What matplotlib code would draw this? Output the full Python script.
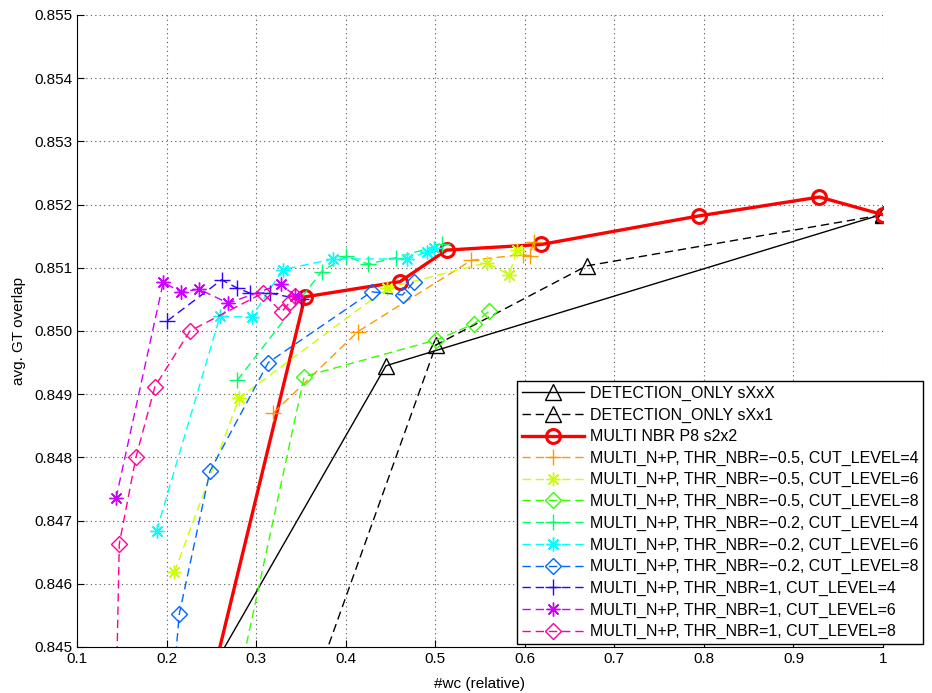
import matplotlib
matplotlib.use("Agg")
import matplotlib.pyplot as plt
import numpy as np

plt.rcParams["font.family"] = ["Liberation Sans", "DejaVu Sans"]
plt.rcParams["font.size"] = 11

# --- data (x = #wc relative, y = avg. GT overlap) ---
det_xxx_x = [0.220, 0.445, 1.000]
det_xxx_y = [0.84389, 0.84945, 0.85185]

det_xx1_x = [0.360, 0.501, 0.669, 1.000]
det_xx1_y = [0.84420, 0.84978, 0.85103, 0.85184]

nbr_p8_x = [0.250, 0.3545, 0.4605, 0.5126, 0.6186, 0.794, 0.929, 1.000]
nbr_p8_y = [0.84444, 0.85054, 0.85078, 0.85128, 0.85137, 0.85182, 0.85212, 0.85184]

m05_c4_x = [0.319, 0.4136, 0.5405, 0.5981, 0.6056, 0.610]
m05_c4_y = [0.84870, 0.84999, 0.85112, 0.85121, 0.85118, 0.85141]

m05_c6_x = [0.2086, 0.2811, 0.4464, 0.5573, 0.5826, 0.5914]
m05_c6_y = [0.84618, 0.84894, 0.85068, 0.85108, 0.85089, 0.85128]

m05_c8_x = [0.280, 0.3537, 0.5014, 0.5431, 0.5598]
m05_c8_y = [0.84444, 0.84928, 0.84986, 0.85011, 0.85031]

m02_c4_x = [0.2789, 0.3731, 0.4002, 0.4251, 0.456, 0.5081]
m02_c4_y = [0.84922, 0.85094, 0.85118, 0.85106, 0.85116, 0.85137]

m02_c6_x = [0.1889, 0.2596, 0.295, 0.3296, 0.386, 0.469, 0.4903, 0.4984]
m02_c6_y = [0.84684, 0.85023, 0.85022, 0.85097, 0.85114, 0.85114, 0.85125, 0.85131]

m02_c8_x = [0.205, 0.2142, 0.2484, 0.3135, 0.4289, 0.4635, 0.4761]
m02_c8_y = [0.84400, 0.84552, 0.84778, 0.84950, 0.85062, 0.85057, 0.85078]

p1_c4_x = [0.2008, 0.2615, 0.2789, 0.2930, 0.3154, 0.350]
p1_c4_y = [0.85016, 0.85081, 0.85068, 0.85060, 0.85060, 0.85050]

p1_c6_x = [0.1435, 0.1963, 0.2157, 0.2365, 0.2689, 0.3273, 0.3433]
p1_c6_y = [0.84735, 0.85077, 0.85062, 0.85066, 0.85044, 0.85074, 0.85056]

p1_c8_x = [0.1435, 0.1472, 0.1658, 0.187, 0.2261, 0.3075, 0.3285, 0.3377, 0.3433]
p1_c8_y = [0.84400, 0.84663, 0.84800, 0.84912, 0.85000, 0.85060, 0.85030, 0.85046, 0.85055]

labels = [
    "DETECTION_ONLY sXxX",
    "DETECTION_ONLY sXx1",
    "MULTI NBR P8 s2x2",
    "MULTI_N+P, THR_NBR=\u22120.5, CUT_LEVEL=4",
    "MULTI_N+P, THR_NBR=\u22120.5, CUT_LEVEL=6",
    "MULTI_N+P, THR_NBR=\u22120.5, CUT_LEVEL=8",
    "MULTI_N+P, THR_NBR=\u22120.2, CUT_LEVEL=4",
    "MULTI_N+P, THR_NBR=\u22120.2, CUT_LEVEL=6",
    "MULTI_N+P, THR_NBR=\u22120.2, CUT_LEVEL=8",
    "MULTI_N+P, THR_NBR=1, CUT_LEVEL=4",
    "MULTI_N+P, THR_NBR=1, CUT_LEVEL=6",
    "MULTI_N+P, THR_NBR=1, CUT_LEVEL=8",
]

# hsv-like colours, one per N+P run
np_colors = ["#ff9900", "#ccff00", "#33ff00", "#00ff66", "#00ffff",
             "#0066ff", "#3300ff", "#cc00ff", "#ff0099"]
star = (8, 2, 0)  # matlab-style asterisk
np_markers = ["+", star, "D", "+", star, "D", "+", star, "D"]
np_data = [(m05_c4_x, m05_c4_y), (m05_c6_x, m05_c6_y), (m05_c8_x, m05_c8_y),
           (m02_c4_x, m02_c4_y), (m02_c6_x, m02_c6_y), (m02_c8_x, m02_c8_y),
           (p1_c4_x, p1_c4_y), (p1_c6_x, p1_c6_y), (p1_c8_x, p1_c8_y)]

fig = plt.figure(figsize=(9.32, 6.93), dpi=100)
ax = fig.add_axes([77 / 932, 46 / 693, 806 / 932, 632 / 693])

dash = (6, 3.5)
ax.plot(det_xxx_x, det_xxx_y, "-", color="k", lw=1.0, marker="^", ms=11,
        mfc="none", mec="k", mew=1.0, label=labels[0])
ax.plot(det_xx1_x, det_xx1_y, "--", dashes=dash, color="k", lw=1.0, marker="^", ms=11,
        mfc="none", mec="k", mew=1.0, label=labels[1])
ax.plot(nbr_p8_x, nbr_p8_y, "-", color="#ff0000", lw=2.4, marker="o", ms=10,
        mfc="none", mec="#ff0000", mew=2.2, label=labels[2])

for (xs, ys), c, m, lab in zip(np_data, np_colors, np_markers, labels[3:]):
    ms = 8 if m == "D" else (10 if m == star else 11)
    ax.plot(xs, ys, "--", dashes=dash, color=c, lw=1.0, marker=m, ms=ms,
            mfc="none", mec=c, mew=1.0, label=lab)

ax.set_xlim(0.1, 1.0)
ax.set_ylim(0.845, 0.855)
xt = np.arange(1, 11) / 10
ax.set_xticks(xt)
ax.set_xticklabels(["0.1", "0.2", "0.3", "0.4", "0.5", "0.6", "0.7", "0.8", "0.9", "1"])
yt = np.arange(845, 856) / 1000
ax.set_yticks(yt)
ax.set_yticklabels(["%.3f" % v for v in yt])
ax.tick_params(direction="in", length=5, width=0.8, labelsize=11, colors="k")
ax.grid(True, linestyle=(0, (1, 3)), color="#555555", lw=0.8)
ax.spines["top"].set_visible(False)
ax.spines["right"].set_visible(False)

ax.set_xlabel("#wc (relative)", fontsize=11, labelpad=8)
ax.set_ylabel("avg. GT overlap", fontsize=11, labelpad=6)

leg = ax.legend(loc="upper left", bbox_to_anchor=(0.546, 0.421), fontsize=11.5,
                frameon=True, fancybox=False, edgecolor="k", framealpha=1,
                borderpad=0.3, labelspacing=0.41, handlelength=3.9,
                handletextpad=0.35, borderaxespad=0)
leg.get_frame().set_linewidth(1.0)

fig.savefig("out.png", dpi=100)
